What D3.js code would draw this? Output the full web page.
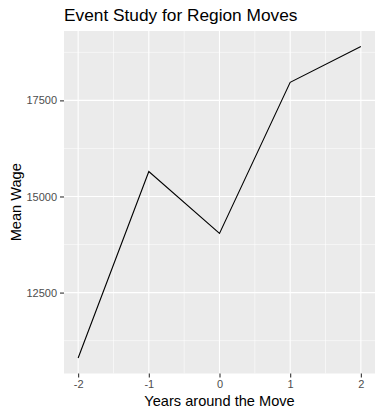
<!DOCTYPE html>
<html>
<head>
<meta charset="utf-8">
<script src="https://cdn.jsdelivr.net/npm/d3@7"></script>
<style>
  body { margin: 0; background: #fff; }
  text { font-family: "Liberation Sans", Arial, sans-serif; }
</style>
</head>
<body>
<svg class="chart_svg" width="383" height="416"></svg>
<script>
// data
var years = [-2, -1, 0, 1, 2];
var meanWage = [10800, 15650, 14040, 17970, 18900];
var yTicks = [12500, 15000, 17500];
var yMinor = [11250, 13750, 16250, 18750];
var xMinor = [-1.5, -0.5, 0.5, 1.5];

var data = years.map(function(d, i) { return {year: d, wage: meanWage[i]}; });

var svg = d3.select(".chart_svg"),
    margin = {top: 31, right: 8, bottom: 42.5, left: 64},
    width = svg.attr("width") - margin.left - margin.right,
    height = svg.attr("height") - margin.top - margin.bottom;

// ggplot style 5% expansion
function expand(ext) {
	var pad = (ext[1] - ext[0]) * 0.05;
	return [ext[0] - pad, ext[1] + pad];
}

var x = d3.scaleLinear()
	.domain(expand(d3.extent(years)))
	.range([0, width]);

var y = d3.scaleLinear()
	.domain(expand(d3.extent(meanWage)))
	.range([height, 0]);

var g = svg.append("g")
	.attr("transform", "translate(" + margin.left + "," + margin.top + ")");

g.append("rect")
	.attr("width", width)
	.attr("height", height)
	.attr("fill", "#ebebeb");

// minor grid
g.selectAll(".minor-x")
	.data(xMinor).enter().append("line")
	.attr("x1", function(d) { return x(d); })
	.attr("x2", function(d) { return x(d); })
	.attr("y1", 0).attr("y2", height)
	.attr("stroke", "#fff").attr("stroke-width", 0.55);

g.selectAll(".minor-y")
	.data(yMinor).enter().append("line")
	.attr("y1", function(d) { return y(d); })
	.attr("y2", function(d) { return y(d); })
	.attr("x1", 0).attr("x2", width)
	.attr("stroke", "#fff").attr("stroke-width", 0.55);

// major grid
g.selectAll(".major-x")
	.data(years).enter().append("line")
	.attr("x1", function(d) { return x(d); })
	.attr("x2", function(d) { return x(d); })
	.attr("y1", 0).attr("y2", height)
	.attr("stroke", "#fff").attr("stroke-width", 1.1);

g.selectAll(".major-y")
	.data(yTicks).enter().append("line")
	.attr("y1", function(d) { return y(d); })
	.attr("y2", function(d) { return y(d); })
	.attr("x1", 0).attr("x2", width)
	.attr("stroke", "#fff").attr("stroke-width", 1.1);

var line = d3.line()
	.x(function(d) { return x(d.year); })
	.y(function(d) { return y(d.wage); });

g.append("path")
	.datum(data)
	.attr("d", line)
	.attr("fill", "none")
	.attr("stroke", "#000")
	.attr("stroke-width", 1.1);

// axes, plain hyphen for negatives like ggplot
var fmt = function(d) { return String(d); };

var xAxis = g.append("g")
	.attr("transform", "translate(0," + height + ")")
	.call(d3.axisBottom(x).tickValues(years).tickSize(4).tickPadding(3).tickFormat(fmt));

var yAxis = g.append("g")
	.call(d3.axisLeft(y).tickValues(yTicks).tickSize(4).tickPadding(3).tickFormat(fmt));

[xAxis, yAxis].forEach(function(a) {
	a.select(".domain").remove();
	a.selectAll(".tick line").attr("stroke", "#333").attr("stroke-width", 1.1);
	a.selectAll(".tick text")
		.attr("fill", "#4d4d4d")
		.style("font-size", "11px")
		.style("font-family", "'Liberation Sans', Arial, sans-serif");
});

svg.append("text")
	.attr("x", margin.left)
	.attr("y", 21)
	.style("font-size", "17.3px")
	.attr("fill", "#000")
	.text("Event Study for Region Moves");

svg.append("text")
	.attr("x", margin.left + width / 2)
	.attr("y", 406)
	.attr("text-anchor", "middle")
	.style("font-size", "14.6px")
	.attr("fill", "#000")
	.text("Years around the Move");

svg.append("text")
	.attr("transform", "translate(20.5," + (margin.top + height / 2) + ") rotate(-90)")
	.attr("text-anchor", "middle")
	.style("font-size", "14.6px")
	.attr("fill", "#000")
	.text("Mean Wage");
</script>
</body>
</html>
